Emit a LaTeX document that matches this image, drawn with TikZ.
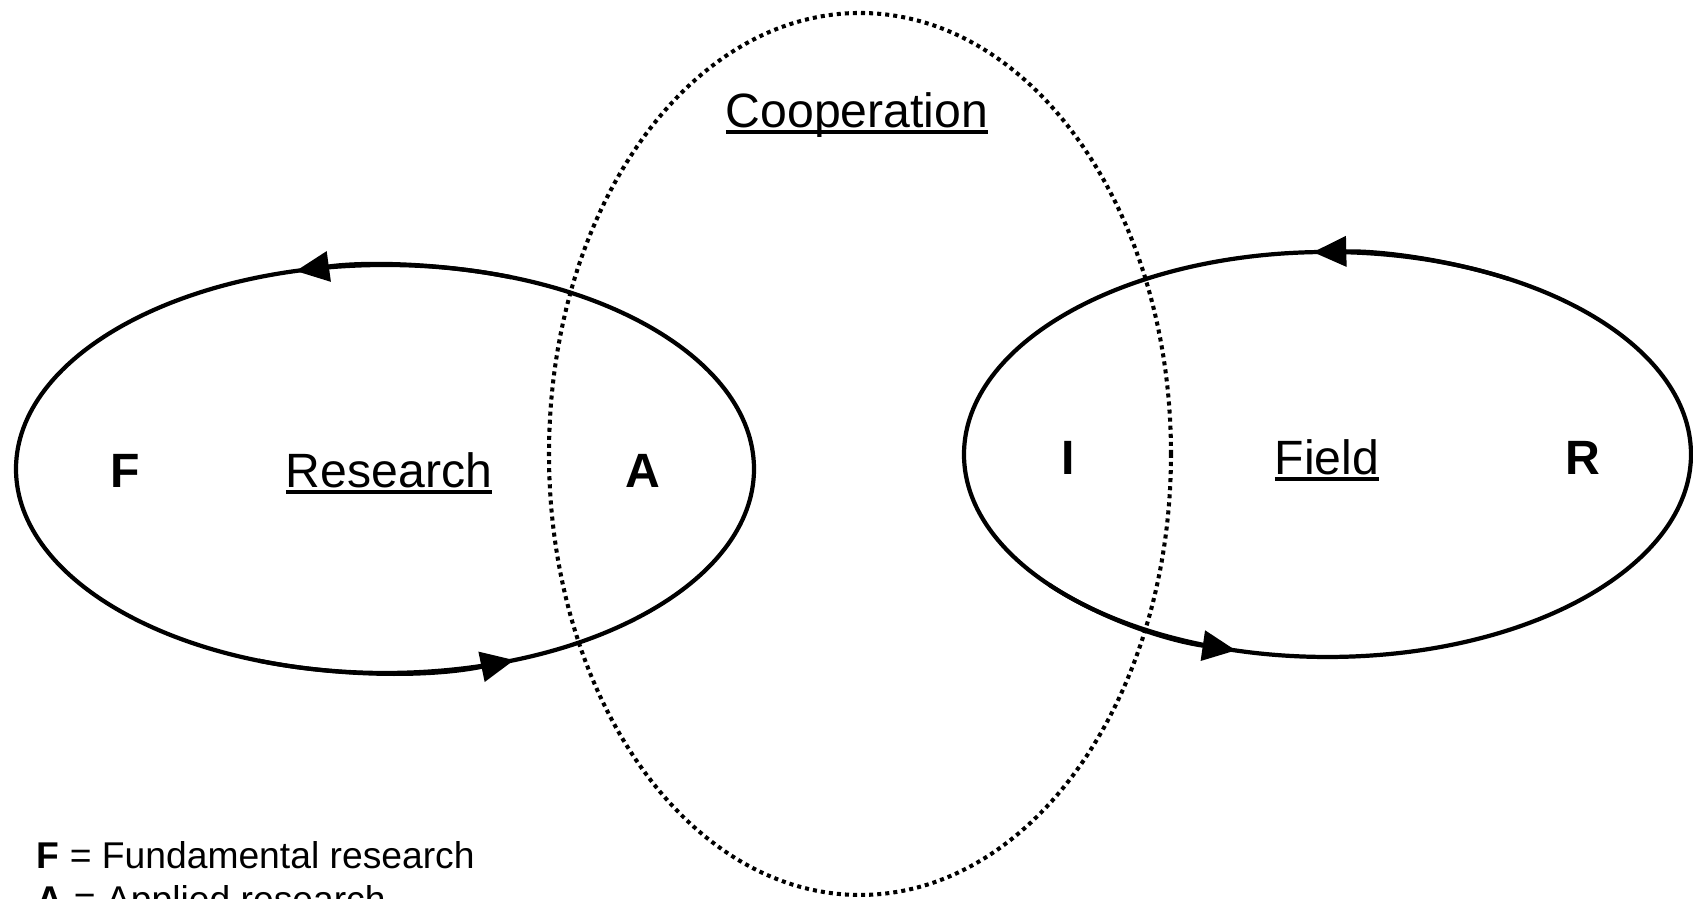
\documentclass[tikz,border=0pt]{standalone}
\usepackage{fontspec}
\setmainfont{Liberation Sans}
\usepackage{tikz}
\usetikzlibrary{arrows.meta}
\newcommand{\uword}[1]{\leavevmode\setbox0=\hbox{#1}\rlap{\rule[-1.8pt]{\wd0}{1.1pt}}\box0}

\begin{document}
\begin{tikzpicture}[lbl/.style={font=\fontsize{13.7}{16}\selectfont, anchor=base, inner sep=0pt}, key/.style={font=\fontsize{10.6}{12.5}\selectfont, anchor=base west, inner sep=0pt}, loop/.style={line width=1.2pt}, tip/.style={-{Triangle[length=9.5pt,width=8.5pt]}}]
%\draw[help lines](0,0)grid(17,9);
\useasboundingbox (0,0) rectangle (16.93,8.99);
\draw[line width=1.15pt, dash pattern=on 1.15pt off 1.15pt] (8.6,4.45) ellipse [x radius=3.11, y radius=4.41];
\draw[loop] (3.85,4.3) ellipse [x radius=3.69, y radius=2.04];
\draw[loop] (13.275,4.445) ellipse [x radius=3.635, y radius=2.025];
\draw[loop,tip] (3.85,4.3) ++(70:3.69 and 2.04) arc [start angle=70, end angle=104, x radius=3.69, y radius=2.04];
\draw[loop,tip] (3.85,4.3) ++(250:3.69 and 2.04) arc [start angle=250, end angle=290.5, x radius=3.69, y radius=2.04];
\draw[loop,tip] (13.275,4.445) ++(60:3.635 and 2.025) arc [start angle=60, end angle=92.3, x radius=3.635, y radius=2.025];
\draw[loop,tip] (13.275,4.445) ++(220:3.635 and 2.025) arc [start angle=220, end angle=255.4, x radius=3.635, y radius=2.025];
\node[lbl] (coop) at (8.57,7.71) {\uword{Cooperation}};
\node[lbl] (research) at (3.89,4.11) {\uword{Research}};
\node[lbl] (F) at (1.25,4.11) {\textbf{F}};
\node[lbl] (A) at (6.43,4.11) {\textbf{A}};
\node[lbl] (field) at (13.27,4.24) {\uword{Field}};
\node[lbl] (I) at (10.68,4.24) {\textbf{I}};
\node[lbl] (R) at (15.83,4.24) {\textbf{R}};
\node[key] (keyF) at (0.36,0.30) {\textbf{F} = Fundamental research};
\node[key] (keyA) at (0.36,-0.14) {\textbf{A} = Applied research};
\end{tikzpicture}
\end{document}
